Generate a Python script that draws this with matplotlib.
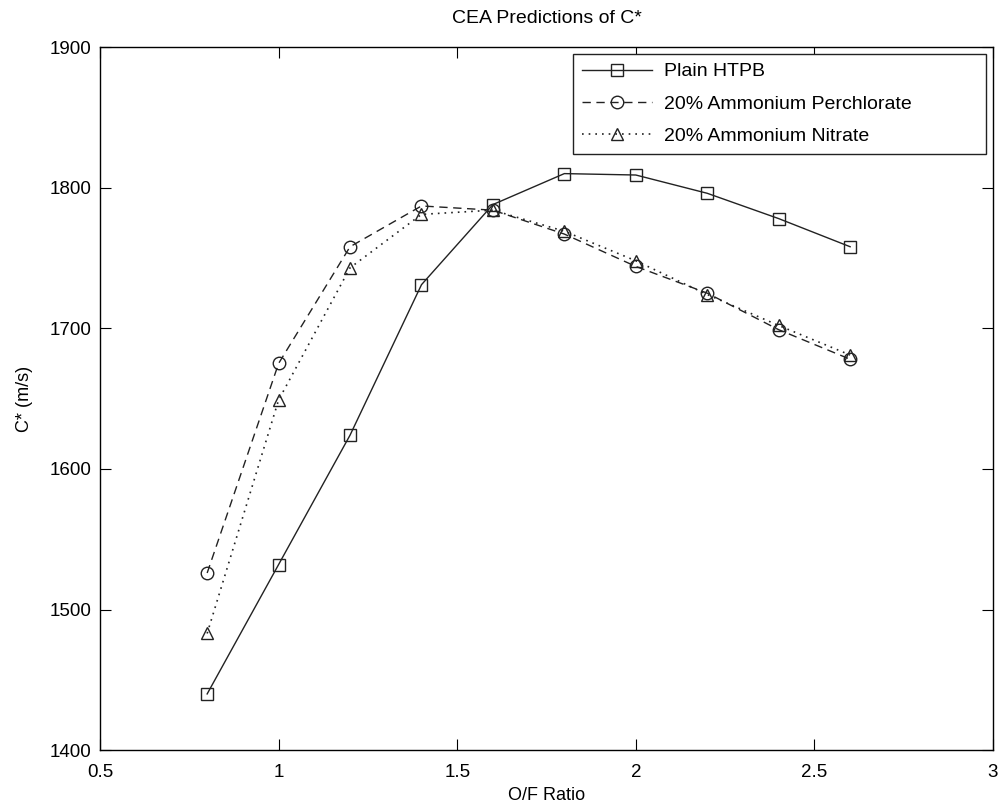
import matplotlib
matplotlib.use('agg')
import matplotlib.pyplot as plt

of_ratio = [0.8, 1.0, 1.2, 1.4, 1.6, 1.8, 2.0, 2.2, 2.4, 2.6]
cstar_htpb = [1440, 1532, 1624, 1731, 1788, 1810, 1809, 1796, 1778, 1758]
cstar_ap = [1526, 1675, 1758, 1787, 1784, 1767, 1744, 1725, 1699, 1678]
cstar_an = [1483, 1649, 1743, 1781, 1784, 1769, 1748, 1724, 1702, 1681]

plt.rcParams['font.family'] = ['Liberation Sans', 'DejaVu Sans']

fig = plt.figure(figsize=(10, 8.11), dpi=100)
ax = fig.add_axes([0.1, 0.075, 0.893, 0.867])

mk = dict(markersize=9, markerfacecolor='none', markeredgecolor='#222222', markeredgewidth=1.0)
ax.plot(of_ratio, cstar_htpb, color='#222222', linestyle='-', linewidth=1.0, marker='s', label='Plain HTPB', **mk)
ax.plot(of_ratio, cstar_ap, color='#222222', linestyle=(0, (6, 4)), linewidth=1.0, marker='o', label='20% Ammonium Perchlorate', **mk)
ax.plot(of_ratio, cstar_an, color='#222222', linestyle=(0, (1, 3)), linewidth=1.2, marker='^', label='20% Ammonium Nitrate', **mk)

ax.set_xlim(0.5, 3)
ax.set_ylim(1400, 1900)
ax.set_xticks([0.5, 1, 1.5, 2, 2.5, 3])
ax.set_xticklabels(['0.5', '1', '1.5', '2', '2.5', '3'])
ax.set_yticks([1400, 1500, 1600, 1700, 1800, 1900])
ax.tick_params(direction='in', top=True, right=True, length=8, labelsize=13.5)
ax.tick_params(axis='x', pad=10)
ax.tick_params(axis='y', pad=6)
for s in ax.spines.values():
    s.set_linewidth(1.0)

ax.set_xlabel('O/F Ratio', fontsize=13, labelpad=4)
ax.set_ylabel('C* (m/s)', fontsize=13, labelpad=12)
ax.set_title('CEA Predictions of C*', fontsize=14, pad=17)

leg = ax.legend(loc='upper left', bbox_to_anchor=(0.53, 0.849, 0.462, 0.141), mode='expand',
                borderaxespad=0, fontsize=14, fancybox=False,
                framealpha=1, edgecolor='#222222', handlelength=3.6, handletextpad=0.6,
                borderpad=0.45, labelspacing=0.75)
leg.get_frame().set_linewidth(1.0)

fig.savefig('out.png', dpi=100)
